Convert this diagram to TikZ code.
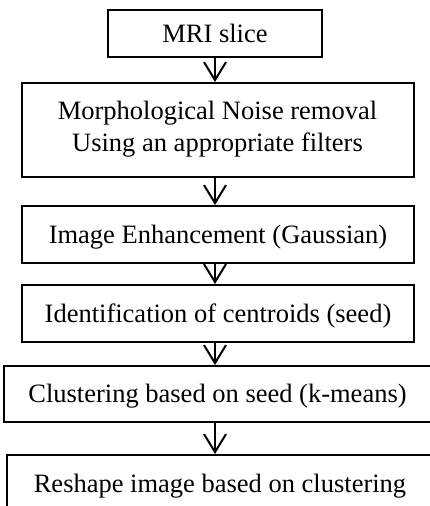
\documentclass[tikz,border=0pt]{standalone}
\usepackage{fontspec}
\setmainfont{Liberation Serif}
\usetikzlibrary{arrows.meta}
\begin{document}
\begin{tikzpicture}[x=1pt,y=-1pt,
  txt/.style={font=\fontsize{26.5}{32}\selectfont, inner sep=0pt, align=center},
  box/.style={draw, line width=2pt, rectangle, inner sep=0pt, text height=17.5pt, text depth=0pt,
              font=\fontsize{26.5}{32}\selectfont},
  arr/.style={line width=1.5pt, -{Straight Barb[length=18pt,width=22pt,line width=2pt]}}]
\useasboundingbox (0,0) rectangle (430,506);
\clip (0,0) rectangle (430,506);
\node[box, minimum width=214pt, minimum height=47pt] (b1) at (215,33.5) {MRI slice};
\node[box, minimum width=392pt, minimum height=94pt] (b2) at (218,130) {};
\node[txt] (t2) at (217.5,129) {Morphological Noise removal\\Using an appropriate filters};
\node[box, minimum width=392pt, minimum height=57pt] (b3) at (218,234.5) {Image Enhancement (Gaussian)};
\node[box, minimum width=392pt, minimum height=57pt] (b4) at (218,313.5) {Identification of centroids (seed)};
\node[box, minimum width=427pt, minimum height=56pt] (b5) at (217.5,394) {Clustering based on seed (k-means)};
\node[box, minimum width=426pt, minimum height=57pt] (b6) at (220,483.5) {Reshape image based on clustering};
\draw[arr] (b1.south) -- (b1.south |- b2.north);
\draw[arr] (b2.south -| b1.south) -- (b1.south |- b3.north);
\draw[arr] (b3.south -| b1.south) -- (b1.south |- b4.north);
\draw[arr] (b4.south -| b1.south) -- (b1.south |- b5.north);
\draw[arr] (b5.south -| b1.south) -- (b1.south |- b6.north);
\end{tikzpicture}
\end{document}
